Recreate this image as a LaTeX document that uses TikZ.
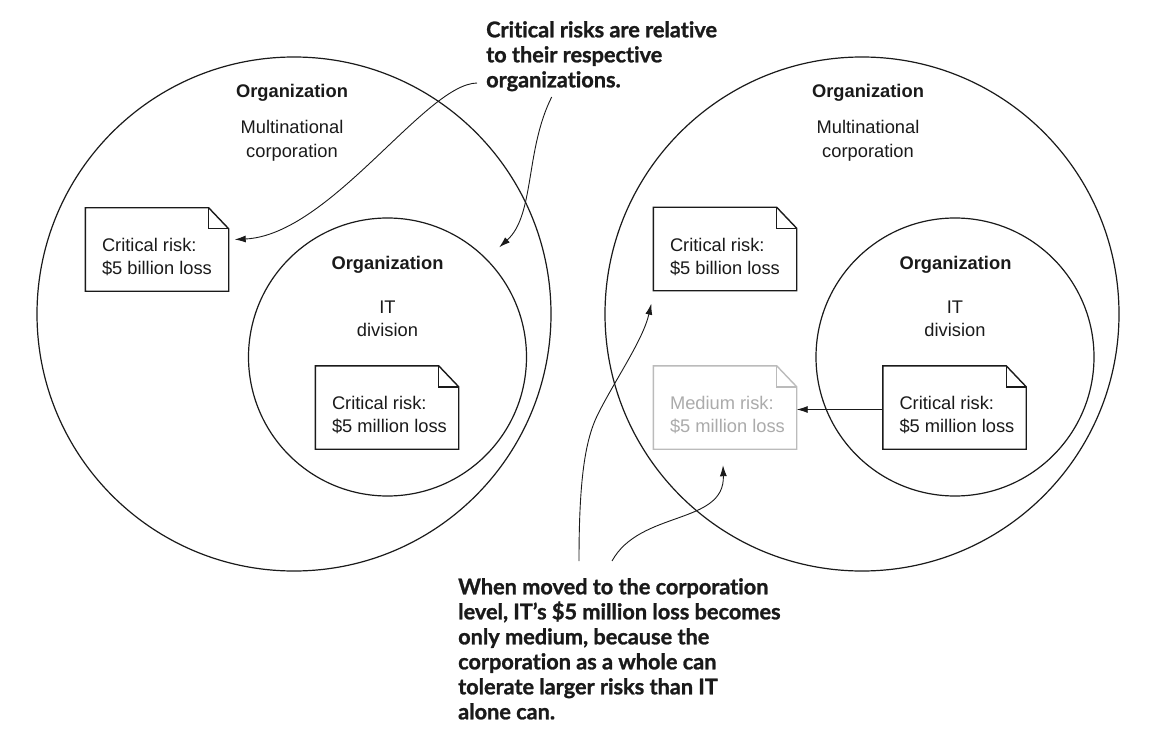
\documentclass[tikz,border=0pt]{standalone}
\usepackage{fontspec}
\setmainfont{Liberation Sans}
\newfontfamily\annotfont{Lato}[Ligatures={TeX,NoCommon},BoldFeatures={FakeBold=1.2}]
\usetikzlibrary{arrows.meta}
\definecolor{medgray}{HTML}{BBBBBB}
\definecolor{medtext}{HTML}{ABABAB}
\definecolor{ink}{HTML}{1A1A1A}
\newcommand\mkNoteOutline[2]{%
  \draw[#2] (#1.north west) -- ([xshift=-20pt]#1.north east) -- ([yshift=-21pt]#1.north east) -- (#1.south east) -- (#1.south west) -- cycle;
  \draw[#2] ([xshift=-20pt]#1.north east) |- ([yshift=-21pt]#1.north east);
}
\tikzset{
  ring/.style={draw=ink, line width=1.2pt, circle, inner sep=0pt},
  lbl/.style={font=\fontsize{18.3}{23.5}\selectfont, text=ink, inner sep=0pt, align=center},
  lblb/.style={font=\fontsize{18.3}{23.5}\selectfont\bfseries, text=ink, inner sep=0pt, align=center},
  notebox/.style={rectangle, minimum width=143pt, minimum height=83pt, inner sep=0pt},
  noteline/.style={draw=ink, line width=1.4pt, line join=miter},
  notelinegray/.style={draw=medgray, line width=1.4pt, line join=miter},
  notetext/.style={font=\fontsize{18.3}{23}\selectfont, text=ink, inner sep=0pt, align=left, anchor=north west},
  annot/.style={font=\annotfont\bfseries\fontsize{21.7}{25}\selectfont, text=ink, inner sep=0pt, align=left, anchor=north west},
  conn/.style={draw=ink, line width=0.9pt, -{Latex[length=11pt,width=7pt]}}
}
\begin{document}
\begin{tikzpicture}[x=1pt,y=-1pt]
\useasboundingbox[fill=white] (0,0) rectangle (1154,746);

% circles
\node[ring, minimum size=514pt] (orgL) at (294,314) {};
\node[ring, minimum size=514pt] (orgR) at (862,314) {};
\node[ring, minimum size=278pt] (itL) at (387.5,357) {};
\node[ring, minimum size=278pt] (itR) at (955,357) {};

% circle labels
\node[lblb, anchor=base] (orgLt) at (292,97.5) {Organization};
\node[lbl, anchor=north] (orgLs) at (292,120.3) {Multinational\\corporation};
\node[lblb, anchor=base] (orgRt) at (868,97.5) {Organization};
\node[lbl, anchor=north] (orgRs) at (868,120.3) {Multinational\\corporation};
\node[lblb, anchor=base] (itLt) at (387.5,269.5) {Organization};
\node[lbl, anchor=north] (itLs) at (387.5,300.4) {IT\\division};
\node[lblb, anchor=base] (itRt) at (955.5,269.5) {Organization};
\node[lbl, anchor=north] (itRs) at (955,300.4) {IT\\division};

% notes
\node[notebox] (nb1) at (157,249.5) {};
\node[notebox] (nm1) at (387,407.5) {};
\node[notebox] (nb2) at (725,249) {};
\node[notebox] (nmed) at (725,407.5) {};
\node[notebox] (nm2) at (954.5,407.5) {};
\mkNoteOutline{nb1}{noteline}
\mkNoteOutline{nm1}{noteline}
\mkNoteOutline{nb2}{noteline}
\mkNoteOutline{nmed}{notelinegray}
\mkNoteOutline{nm2}{noteline}
\node[notetext] (tb1) at ([xshift=16.5pt,yshift=-30.5pt]nb1.north west) {Critical risk:\\\$5 billion loss};
\node[notetext] (tm1) at ([xshift=16.5pt,yshift=-30.5pt]nm1.north west) {Critical risk:\\\$5 million loss};
\node[notetext] (tb2) at ([xshift=16.5pt,yshift=-30.5pt]nb2.north west) {Critical risk:\\\$5 billion loss};
\node[notetext, text=medtext] (tmed) at ([xshift=16.5pt,yshift=-30.5pt]nmed.north west) {Medium risk:\\\$5 million loss};
\node[notetext] (tm2) at ([xshift=16.5pt,yshift=-30.5pt]nm2.north west) {Critical risk:\\\$5 million loss};

% annotations
\node[annot] (anTop) at (486,21) {Critical risks are relative\\to their respective\\organizations.};
\node[annot] (anBot) at (458,578) {When moved to the corporation\\level, IT’s \$5 million loss becomes\\only medium, because the\\corporation as a whole can\\tolerate larger risks than IT\\alone can.};

% connectors
\coordinate (a1s) at (477,83);
\coordinate (a2s) at (551.7,97);
\coordinate (a3s) at (579,561);
\coordinate (a4s) at (612,561);
\draw[conn] (a1s) .. controls (425,84) and (330,235) .. ([xshift=6pt,yshift=10pt]nb1.east);
\draw[conn] (a2s) .. controls (525,150) and (535,215) .. ([xshift=13pt,yshift=11pt]itL.45);
\draw[conn] (a3s) .. controls (579,480) and (585,440) .. (598,414) .. controls (615,380) and (643,340) .. ([xshift=-2pt,yshift=-13pt]nb2.south west);
\draw[conn] (a4s) .. controls (640,510) and (725,525) .. ([xshift=-2pt,yshift=-16pt]nmed.south);
\draw[conn] ([yshift=-2pt]nm2.west) -- ([yshift=-2pt]nmed.east);
\end{tikzpicture}
\end{document}
